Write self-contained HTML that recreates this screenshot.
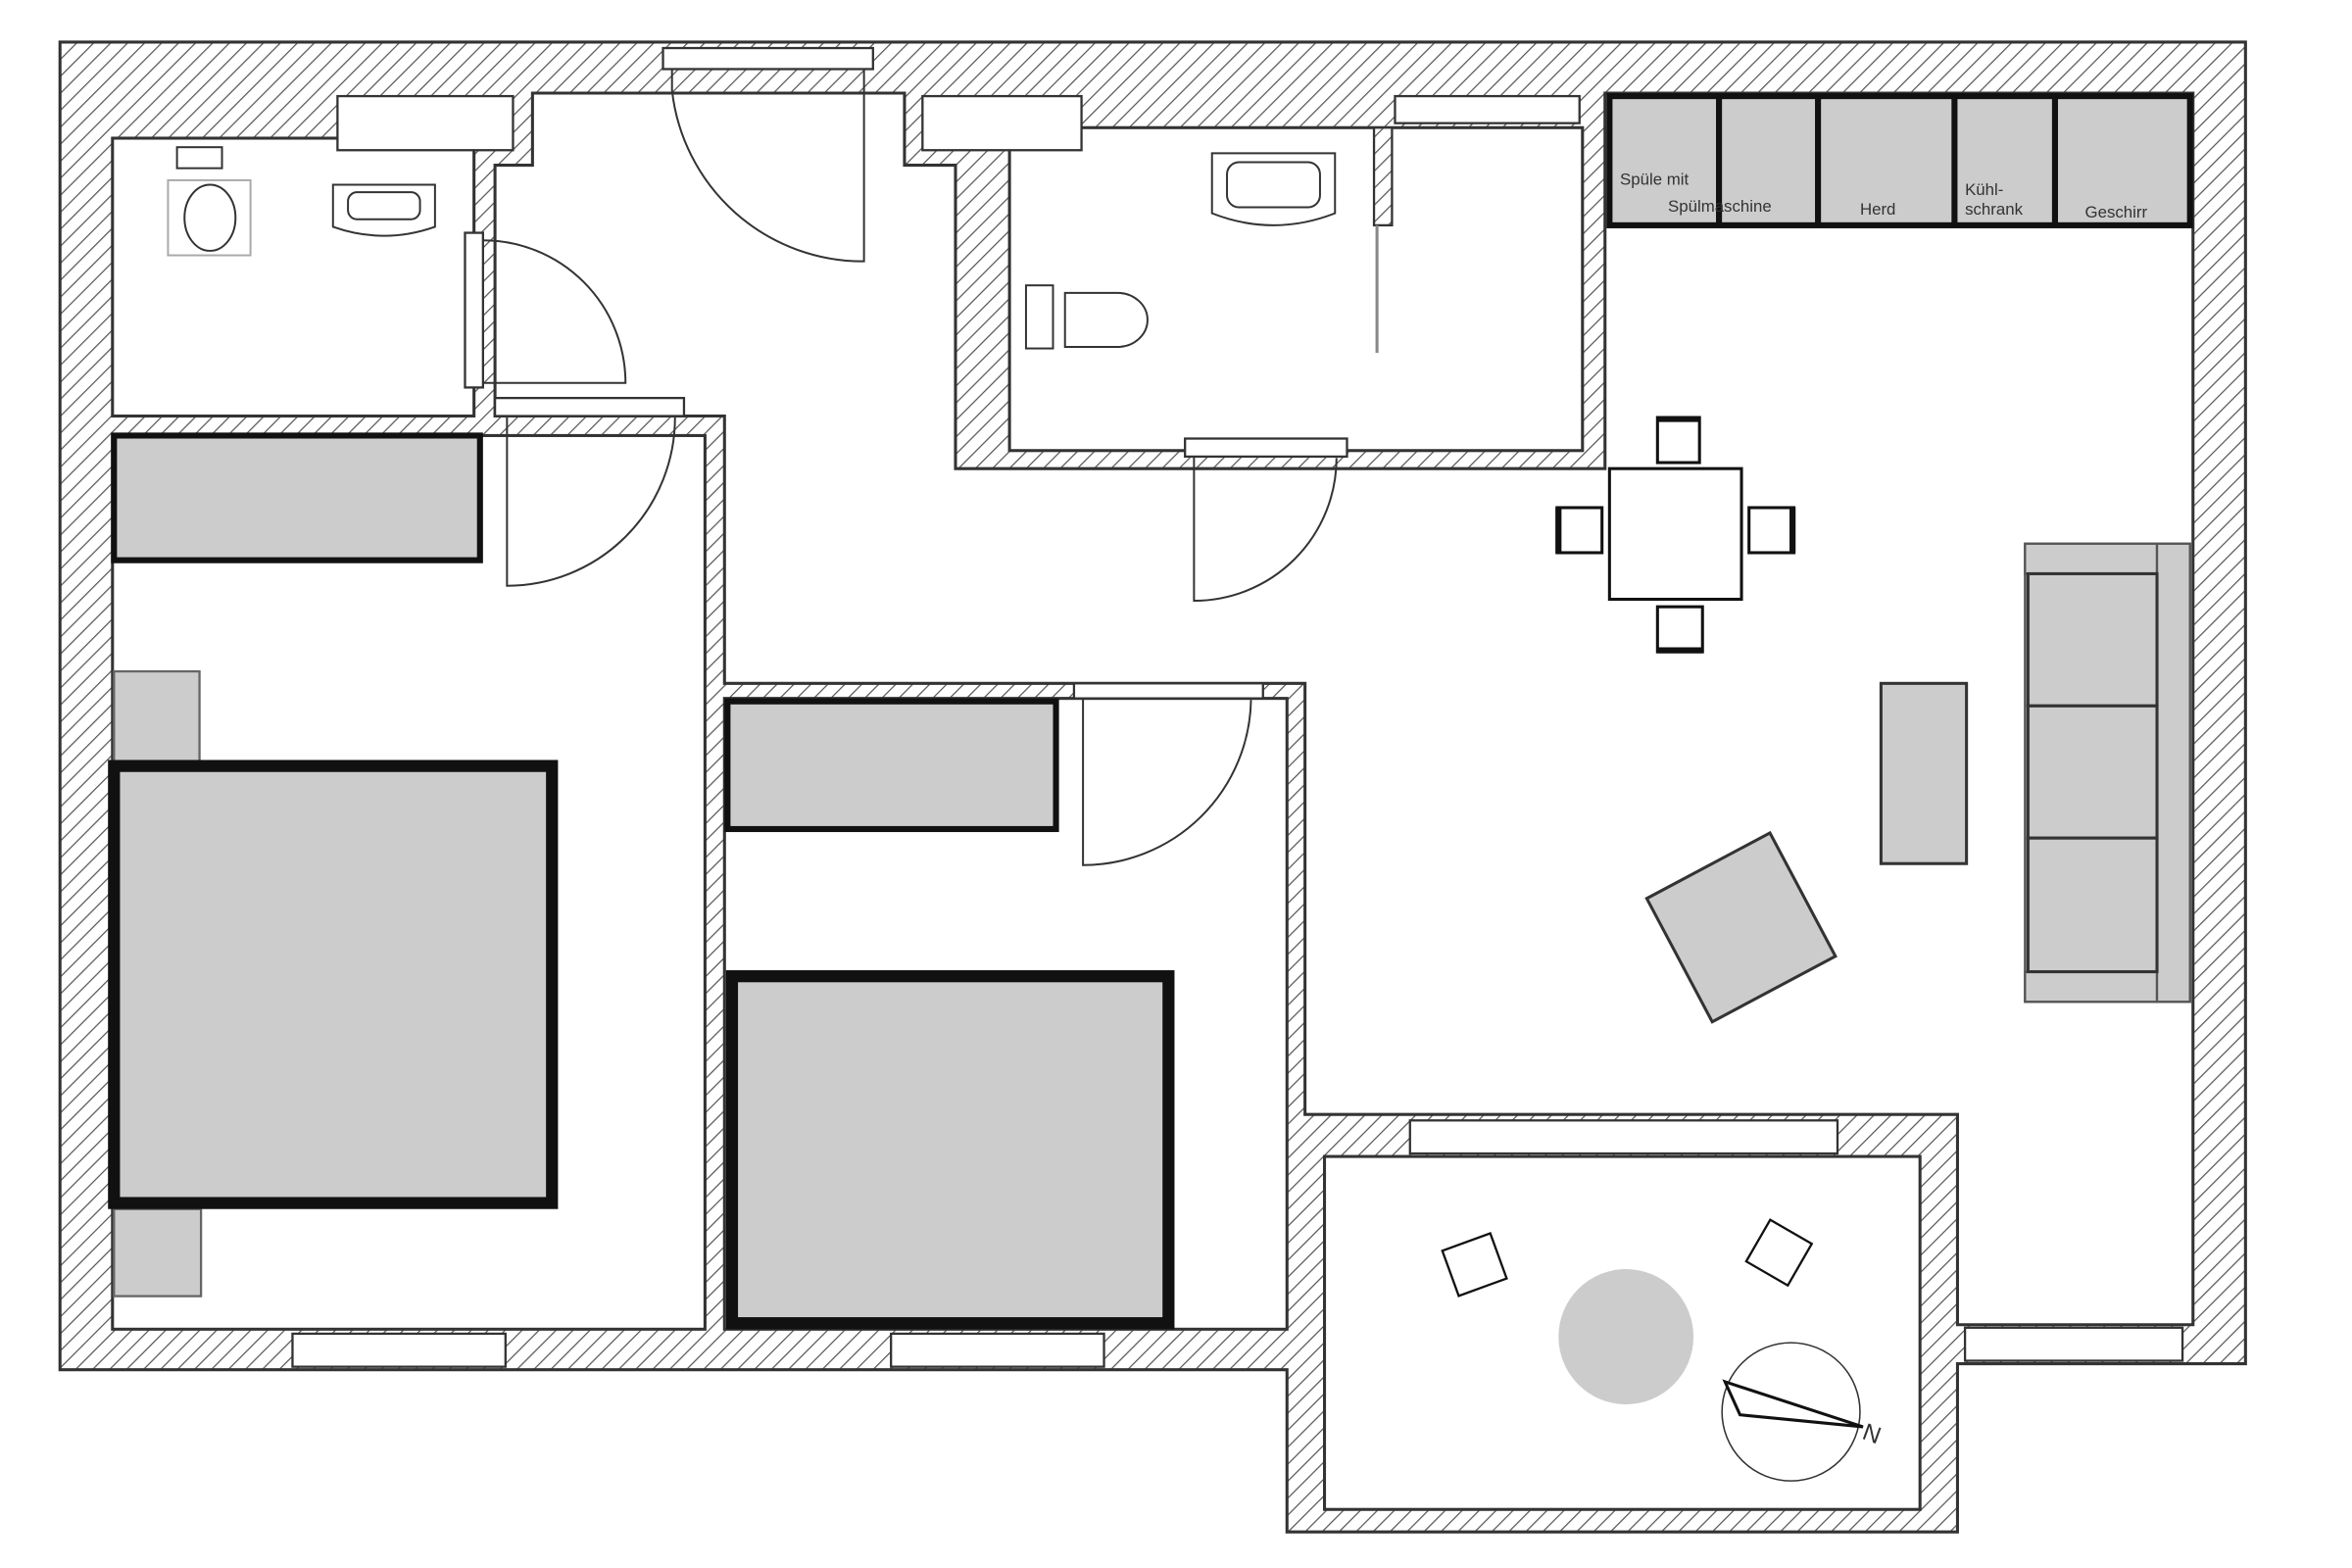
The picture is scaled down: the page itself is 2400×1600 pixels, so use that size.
<!DOCTYPE html>
<html><head><meta charset="utf-8"><style>
html,body{margin:0;padding:0;background:#fff;width:2400px;height:1600px;overflow:hidden}
svg{display:block}
text{font-family:"Liberation Sans",sans-serif;fill:#333}
</style></head><body>
<svg width="2400" height="1600" viewBox="0 0 1568 1044" preserveAspectRatio="none">
<defs>
<pattern id="h" width="8" height="8" patternUnits="userSpaceOnUse" patternTransform="rotate(45)">
<rect width="8" height="8" fill="#fff"/><line x1="0" y1="0" x2="0" y2="8" stroke="#555" stroke-width="1.6"/>
</pattern>
</defs>
<rect width="1568" height="1044" fill="#fff"/>
<polygon points="40,28 1497,28 1497,908 1305,908 1305,1020 858,1020 858,912 40,912" fill="url(#h)" stroke="#333" stroke-width="2"/>
<g fill="#fff" stroke="#333" stroke-width="2">
<rect x="75" y="92" width="241" height="185"/>
<polygon points="355,62 603,62 603,110 637,110 637,312 1070,312 1070,62 1462,62 1462,882 1305,882 1305,742 870,742 870,455 483,455 483,277 330,277 330,110 355,110"/>
<rect x="673" y="85" width="382" height="215"/>
<rect x="75" y="290" width="395" height="595"/>
<rect x="483" y="465" width="375" height="420"/>
<rect x="883" y="770" width="397" height="235"/>
</g>
<rect x="916" y="85" width="12" height="65" fill="url(#h)" stroke="#333" stroke-width="1.5"/>
<line x1="918" y1="150" x2="918" y2="235" stroke="#888" stroke-width="2"/>
<g fill="#fff" stroke="#333" stroke-width="1.5">
<rect x="442" y="32" width="140" height="14"/>
<rect x="225" y="64" width="117" height="36"/>
<rect x="615" y="64" width="106" height="36"/>
<rect x="930" y="64" width="123" height="18"/>
<rect x="330" y="265" width="126" height="12"/>
<rect x="310" y="155" width="12" height="103"/>
<rect x="790" y="292" width="108" height="12"/>
<rect x="716" y="455" width="126" height="10"/>
<rect x="195" y="888" width="142" height="22"/>
<rect x="594" y="888" width="142" height="22"/>
<rect x="940" y="746" width="285" height="22"/>
<rect x="1310" y="884" width="145" height="22"/>
</g>
<g fill="none" stroke="#333" stroke-width="1.3">
<path d="M448,46 L448,60 A128,128 0 0 0 576,174 L576,46"/>
<path d="M322,160 A95,95 0 0 1 417,255 L322,255"/>
<path d="M338,277 L338,390 A112,112 0 0 0 450,278"/>
<path d="M796,304 L796,400 A95,95 0 0 0 891,305"/>
<path d="M722,465 L722,576 A112,112 0 0 0 834,466"/>
</g>
<g fill="#fff" stroke="#333" stroke-width="1.3">
<rect x="118" y="98" width="30" height="14"/>
<ellipse cx="140" cy="145" rx="17" ry="22"/>
<rect x="112" y="120" width="55" height="50" fill="none" stroke="#aaa"/>
<path d="M222,123 h68 v28 q-34,12 -68,0 z"/>
<rect x="232" y="128" width="48" height="18" rx="6"/>
<path d="M808,102 h82 v40 q-41,16 -82,0 z"/>
<rect x="818" y="108" width="62" height="30" rx="8"/>
<rect x="684" y="190" width="18" height="42"/>
<path d="M710,195 h35 a20,18 0 0 1 0,36 h-35 z"/>
</g>
<g fill="#ccc" stroke="#111" stroke-width="4">
<rect x="1073" y="64" width="387" height="86"/>
</g>
<g stroke="#111" stroke-width="4">
<line x1="1146" y1="64" x2="1146" y2="150"/>
<line x1="1212" y1="64" x2="1212" y2="150"/>
<line x1="1303" y1="64" x2="1303" y2="150"/>
<line x1="1370" y1="64" x2="1370" y2="150"/>
</g>
<g font-size="11">
<text x="1080" y="123">Spüle mit</text>
<text x="1112" y="141">Spülmaschine</text>
<text x="1240" y="143">Herd</text>
<text x="1310" y="130">Kühl-</text>
<text x="1310" y="143">schrank</text>
<text x="1390" y="145">Geschirr</text>
</g>
<g fill="#fff" stroke="#111" stroke-width="2">
<rect x="1073" y="312" width="88" height="87"/>
<rect x="1105" y="278" width="28" height="30"/>
<rect x="1105" y="404" width="30" height="30"/>
<rect x="1038" y="338" width="30" height="30"/>
<rect x="1166" y="338" width="30" height="30"/>
</g>
<g stroke="#111" stroke-width="4"><line x1="1105" y1="279" x2="1133" y2="279"/><line x1="1105" y1="433" x2="1135" y2="433"/><line x1="1039" y1="338" x2="1039" y2="368"/><line x1="1195" y1="338" x2="1195" y2="368"/></g>
<g fill="#ccc" stroke="#555" stroke-width="1.5">
<rect x="1350" y="362" width="110" height="305"/>
<rect x="1350" y="362" width="88" height="20"/>
<rect x="1350" y="647" width="88" height="20"/>
<rect x="1438" y="362" width="22" height="305"/>
</g>
<g fill="#ccc" stroke="#333" stroke-width="2">
<rect x="1352" y="382" width="86" height="88"/>
<rect x="1352" y="470" width="86" height="88"/>
<rect x="1352" y="558" width="86" height="89"/>
<rect x="1254" y="455" width="57" height="120"/>
<rect x="1113" y="571" width="93" height="93" transform="rotate(-28 1160 615)"/>
</g>
<g fill="#ccc" stroke="#111">
<rect x="76" y="290" width="244" height="83" stroke-width="4"/>
<rect x="76" y="447" width="57" height="60" stroke-width="1.5" stroke="#666"/>
<rect x="76" y="805" width="58" height="58" stroke-width="1.5" stroke="#666"/>
<rect x="76" y="510" width="292" height="291" stroke-width="8"/>
<rect x="485" y="467" width="219" height="85" stroke-width="4"/>
<rect x="488" y="650" width="291" height="231" stroke-width="8"/>
</g>
<circle cx="1084" cy="890" r="45" fill="#ccc"/>
<g fill="#fff" stroke="#111" stroke-width="1.5">
<rect x="966" y="826" width="34" height="32" transform="rotate(-20 983 842)"/>
<rect x="1170" y="818" width="32" height="32" transform="rotate(30 1186 834)"/>
</g>
<circle cx="1194" cy="940" r="46" fill="none" stroke="#333" stroke-width="1"/>
<polygon points="1150,920 1242,950 1160,942" fill="#fff" stroke="#111" stroke-width="2"/>
<text x="1242" y="960" font-size="16" fill="#111" transform="rotate(20 1248 955)">N</text>
</svg>
</body></html>
